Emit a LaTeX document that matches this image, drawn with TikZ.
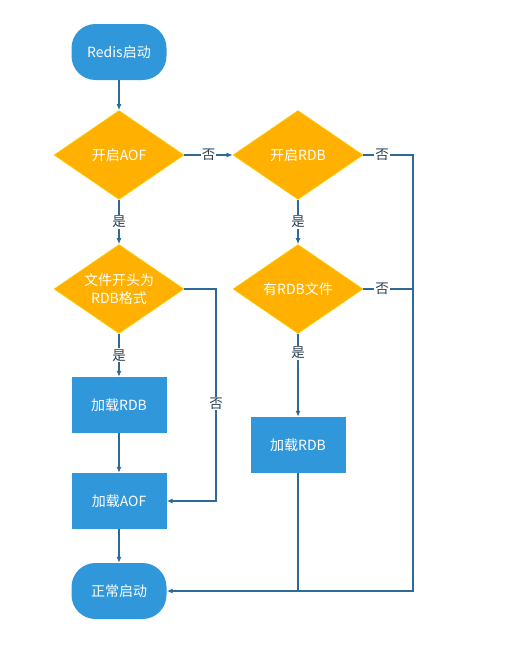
\documentclass[tikz,border=0pt]{standalone}
\usepackage{fontspec}
\setmainfont{Noto Sans CJK SC}
\usetikzlibrary{shapes.geometric,arrows.meta}
\definecolor{bluefill}{HTML}{3097DB}
\definecolor{orangefill}{HTML}{FFB000}
\definecolor{linec}{HTML}{2D6A97}
\definecolor{labc}{HTML}{2A3E50}
\begin{document}
\begin{tikzpicture}[x=1pt,y=-1pt,
  shapetext/.style={text=white,font=\fontsize{14}{17.5}\selectfont,inner sep=0pt,align=center},
  term/.style={shapetext,fill=bluefill,rounded corners=24pt,minimum width=95pt,minimum height=56pt},
  proc/.style={shapetext,fill=bluefill,minimum width=95pt,minimum height=56pt},
  dec/.style={shapetext,diamond,aspect=1.46,fill=orangefill,draw=yellow!50!orangefill,line width=0.6pt,minimum width=130pt,minimum height=89pt},
  arr/.style={draw=linec,line width=1.1pt,-{Latex[length=6pt,width=5pt]}},
  ln/.style={draw=linec,line width=1.1pt},
  lab/.style={fill=white,text=labc,font=\fontsize{13.5}{15}\selectfont,inner sep=1pt}]
\useasboundingbox (0,0) rectangle (507,653);
\node[term] (start) at (119,52) {Redis启动};
\node[dec] (d1) at (119,155) {开启AOF};
\node[dec] (d2) at (298,155) {开启RDB};
\node[dec] (d3) at (119,289) {文件开头为\\RDB格式};
\node[dec] (d4) at (298,289) {有RDB文件};
\node[proc] (r1) at (119,405) {加载RDB};
\node[proc] (aof) at (119,501) {加载AOF};
\node[proc] (r2) at (298,445) {加载RDB};
\node[term] (end) at (119,591) {正常启动};
\coordinate (rc) at (413,155);
\coordinate (mc) at (216,289);
\draw[arr] (start) -- (d1);
\draw[arr] (d1) -- node[lab]{是} (d3);
\draw[arr] (d1) -- node[lab]{否} (d2);
\draw[arr] (d2) -- node[lab]{是} (d4);
\draw[arr] (d4) -- node[lab,pos=0.23]{是} (r2);
\draw[arr] (d3) -- node[lab]{是} (r1);
\draw[arr] (r1) -- (aof);
\draw[arr] (aof) -- (end);
\draw[arr] (d3.east) -- (mc) |- node[lab,pos=0.27]{否} (aof.east);
\draw[arr] (d2.east) -- node[lab,pos=0.38]{否} (rc) |- (end.east);
\draw[ln] (d4.east) -- node[lab,pos=0.38]{否} (d4.east -| rc);
\draw[ln] (r2.south) -- (r2.south |- end.east);
\end{tikzpicture}
\end{document}
